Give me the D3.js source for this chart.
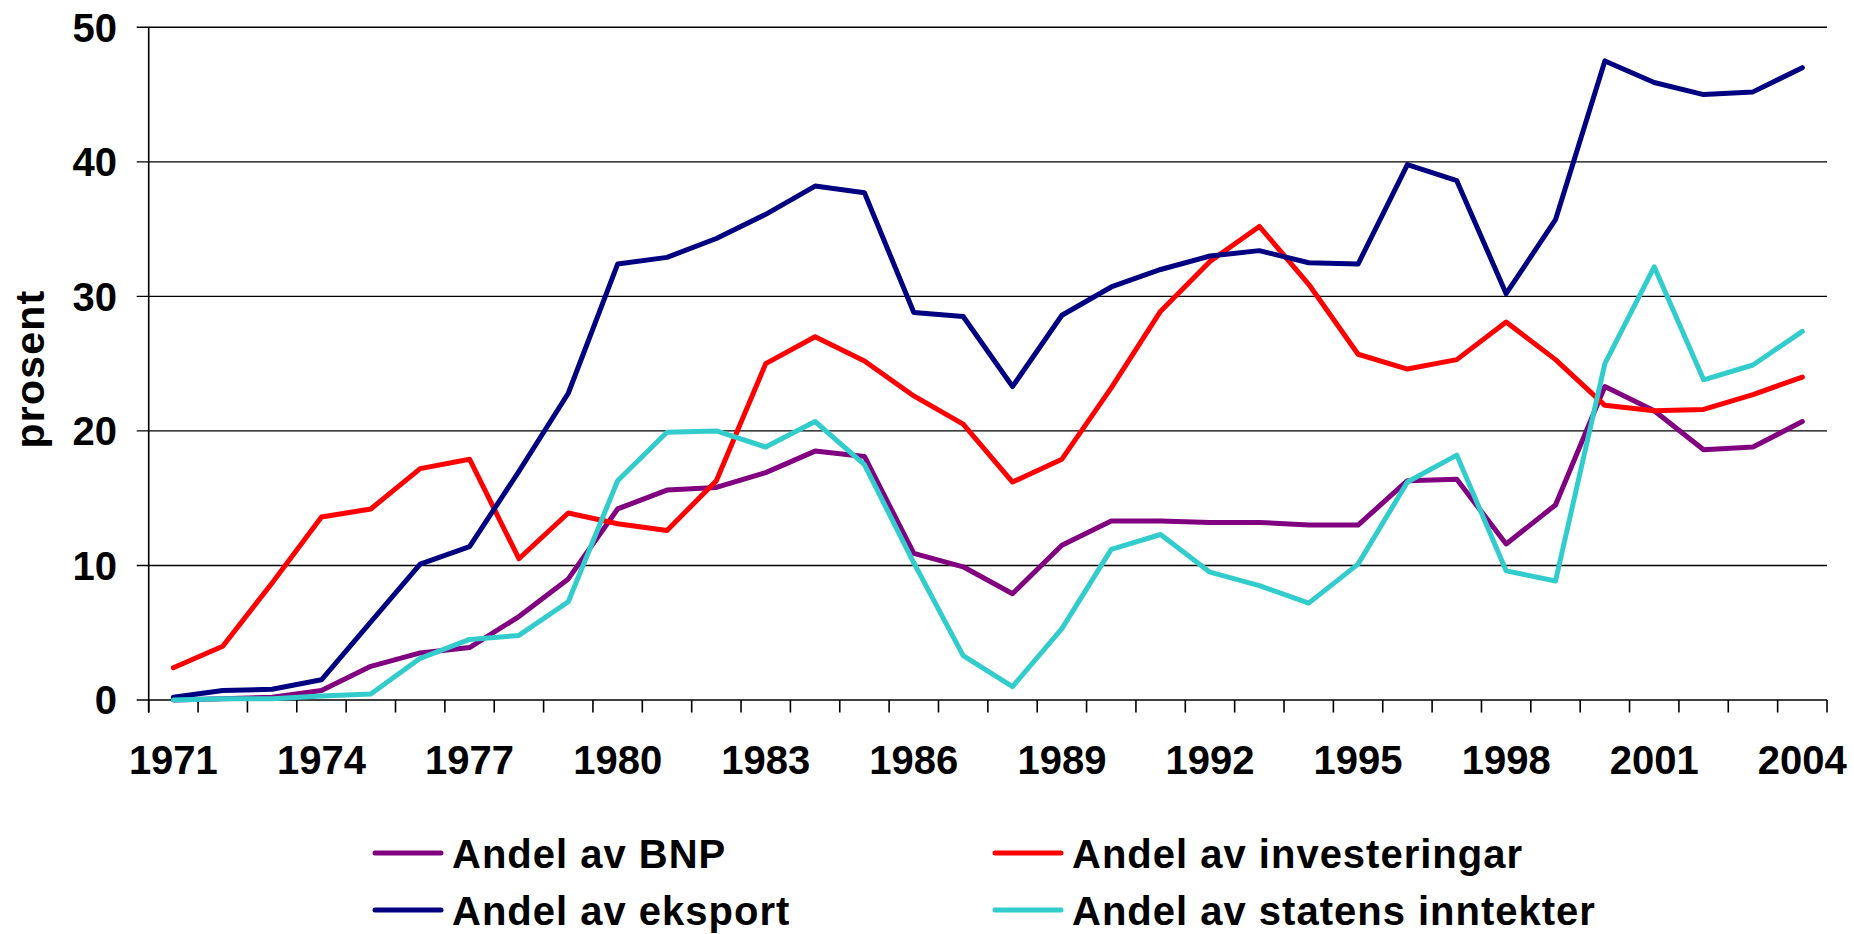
<!DOCTYPE html>
<html>
<head>
<meta charset="utf-8">
<script src="https://cdn.jsdelivr.net/npm/d3@7"></script>
<style>
  html, body { margin: 0; padding: 0; background: #fff; }
  svg { display: block; }
  text { font-family: "Liberation Sans", Arial, sans-serif; font-weight: bold; fill: #000; }
</style>
</head>
<body>
<svg id="chart" width="1854" height="934"></svg>
<script>
// Years on the category axis
const years = d3.range(1971, 2005);

// Petroleum sector share (percent), one array per series
const bnp = [0.0, 0.1, 0.2, 0.7, 2.5, 3.5, 3.9, 6.2, 9.0, 14.2,
             15.6, 15.8, 16.9, 18.5, 18.1, 10.9, 9.9, 7.9, 11.5, 13.3,
             13.3, 13.2, 13.2, 13.0, 13.0, 16.3, 16.4, 11.6, 14.5, 23.3,
             21.5, 18.6, 18.8, 20.7];
const investeringar = [2.4, 4.0, 8.7, 13.6, 14.2, 17.2, 17.9, 10.5, 13.9, 13.1,
                       12.6, 16.3, 25.0, 27.0, 25.2, 22.6, 20.5, 16.2, 17.9, 23.2,
                       28.9, 32.6, 35.2, 30.9, 25.7, 24.6, 25.3, 28.1, 25.3, 21.9,
                       21.5, 21.6, 22.7, 24.0];
const eksport = [0.2, 0.7, 0.8, 1.5, 5.8, 10.1, 11.4, 17.0, 22.8, 32.4,
                 32.9, 34.3, 36.1, 38.2, 37.7, 28.8, 28.5, 23.3, 28.6, 30.7,
                 32.0, 33.0, 33.4, 32.5, 32.4, 39.8, 38.6, 30.2, 35.7, 47.5,
                 45.9, 45.0, 45.2, 47.0];
const statensInntekter = [0.0, 0.1, 0.1, 0.3, 0.45, 3.1, 4.5, 4.8, 7.3, 16.3,
                          19.9, 20.0, 18.8, 20.7, 17.5, 10.2, 3.3, 1.0, 5.3, 11.2,
                          12.3, 9.5, 8.5, 7.2, 10.1, 16.2, 18.2, 9.6, 8.85, 25.0,
                          32.2, 23.8, 24.9, 27.4];

const yTicks = [0, 10, 20, 30, 40, 50];
const xLabelYears = d3.range(1971, 2005, 3);

const series = [
  { name: "Andel av BNP", values: bnp, color: "#800080" },
  { name: "Andel av investeringar", values: investeringar, color: "#FF0000" },
  { name: "Andel av eksport", values: eksport, color: "#000080" },
  { name: "Andel av statens inntekter", values: statensInntekter, color: "#33CCCC" }
];

const svg = d3.select("#chart");
const plot = { left: 148.7, right: 1827, top: 27.3, bottom: 700 };

const x = d3.scaleBand().domain(years).range([plot.left, plot.right]).padding(0);
const cx = yr => x(yr) + x.bandwidth() / 2;
const y = d3.scaleLinear().domain([0, 50]).range([plot.bottom, plot.top]);

// Horizontal gridlines with left tick marks
svg.append("g").selectAll("line").data(yTicks).join("line")
  .attr("x1", plot.left - 12).attr("x2", plot.right)
  .attr("y1", d => y(d)).attr("y2", d => y(d))
  .attr("stroke", "#000").attr("stroke-width", 1.4);

// Y tick labels
svg.append("g").selectAll("text").data(yTicks).join("text")
  .attr("x", 117).attr("y", d => y(d)).attr("dy", "0.36em")
  .attr("text-anchor", "end").style("font-size", "40px")
  .text(d => d);

// Y axis line
svg.append("line")
  .attr("x1", plot.left).attr("x2", plot.left)
  .attr("y1", plot.top).attr("y2", plot.bottom + 12.5)
  .attr("stroke", "#000").attr("stroke-width", 1.6);

// Category tick marks between years
const tickXs = years.map(yr => x(yr)).concat([plot.right]);
svg.append("g").selectAll("line").data(tickXs).join("line")
  .attr("x1", d => d).attr("x2", d => d)
  .attr("y1", plot.bottom).attr("y2", plot.bottom + 12.5)
  .attr("stroke", "#000").attr("stroke-width", 1.6);

// X tick labels every third year
svg.append("g").selectAll("text").data(xLabelYears).join("text")
  .attr("x", d => cx(d)).attr("y", 774)
  .attr("text-anchor", "middle").style("font-size", "40px")
  .text(d => d);

// Y axis title
svg.append("text")
  .attr("transform", "translate(44,369) rotate(-90)")
  .attr("text-anchor", "middle")
  .style("font-size", "41px").style("letter-spacing", "1.2px")
  .text("prosent");

// Series lines
const line = d3.line().x((d, i) => cx(years[i])).y(d => y(d));
svg.append("g").selectAll("path").data(series).join("path")
  .attr("d", s => line(s.values))
  .attr("fill", "none")
  .attr("stroke", s => s.color)
  .attr("stroke-width", 5)
  .attr("stroke-linejoin", "round")
  .attr("stroke-linecap", "round");

// Legend in two columns
const legendPos = [
  { lx: 375, ty: 868 },
  { lx: 995, ty: 868 },
  { lx: 375, ty: 925 },
  { lx: 995, ty: 925 }
];
const lg = svg.append("g").selectAll("g").data(series).join("g")
  .attr("transform", (d, i) => `translate(${legendPos[i].lx},${legendPos[i].ty})`);
lg.append("line")
  .attr("x1", 0).attr("x2", 66).attr("y1", -15).attr("y2", -15)
  .attr("stroke", d => d.color).attr("stroke-width", 5)
  .attr("stroke-linecap", "round");
lg.append("text")
  .attr("x", 77).attr("y", 0)
  .style("font-size", "40px").style("letter-spacing", "1px")
  .text(d => d.name);
</script>
</body>
</html>
